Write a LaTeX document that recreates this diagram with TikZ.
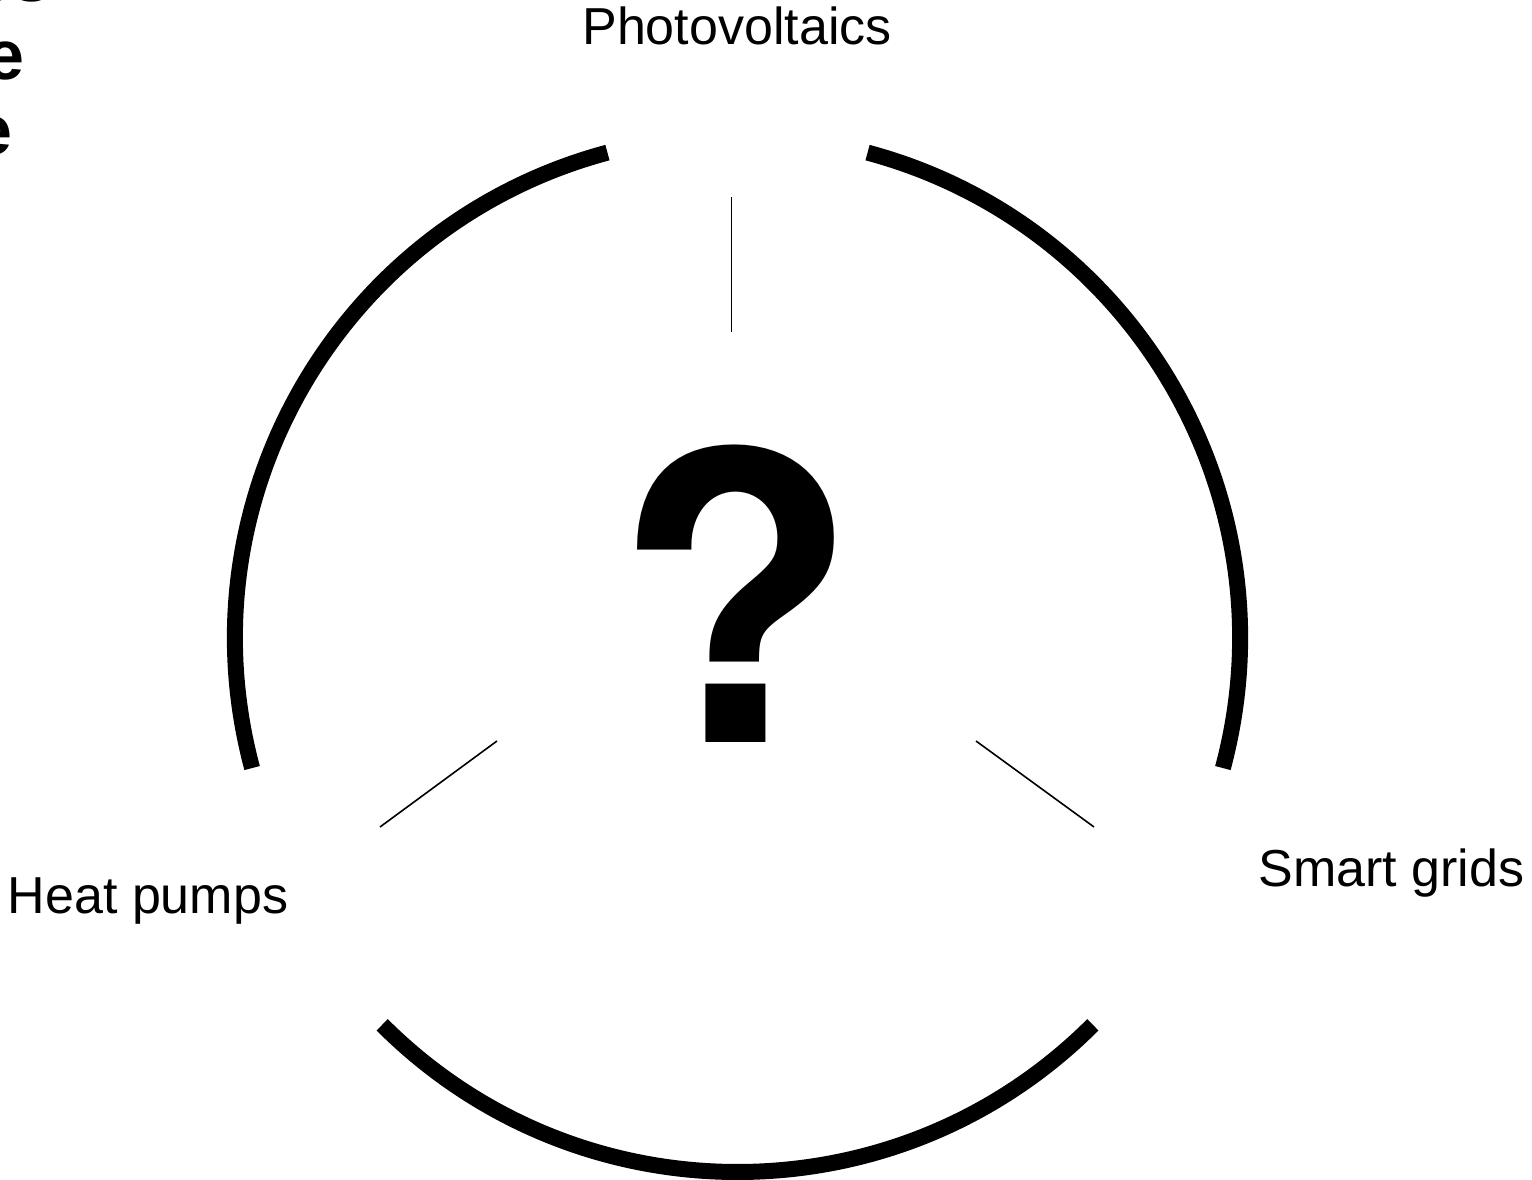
\documentclass[tikz,border=0pt]{standalone}
\usepackage{fontspec}
\setmainfont{Liberation Sans}
\newfontfamily\herosfont{TeX Gyre Heros}
\begin{document}
\begin{tikzpicture}[
        x=1pt, y=1pt,
        rim/.style={line width=16pt},
        spoke/.style={line width=1.6pt},
        tag/.style={inner sep=0pt, anchor=base, font=\fontsize{52}{62}\selectfont},
        edgetext/.style={inner sep=0pt, anchor=base east, font=\fontsize{70}{80}\selectfont\bfseries}
    ]
        \useasboundingbox (0,0) rectangle (1532,1180);
        \coordinate (c) at (737.5,542);
        \coordinate (cb) at (737.5,510.5);

        \draw[rim] (c) ++(105:502.5) arc[start angle=105, end angle=195, radius=502.5];
        \draw[rim] (c) ++(75:502.5) arc[start angle=75, end angle=-15, radius=502.5];
        \draw[rim] (cb) ++(225:502.5) arc[start angle=225, end angle=315, radius=502.5];

        \coordinate (pvin) at (731.5,848);
        \coordinate (pvout) at (731.5,983);
        \coordinate (hpin) at (497,439);
        \coordinate (hpout) at (380,353);
        \coordinate (sgin) at (976,439);
        \coordinate (sgout) at (1094,353);
        \draw[spoke] (pvin) -- (pvout);
        \draw[spoke] (hpin) -- (hpout);
        \draw[spoke] (sgin) -- (sgout);

        \node[inner sep=0pt, anchor=base, font=\fontsize{400}{400}\selectfont\herosfont\bfseries] (qmark) at (736,437) {?};

        \node[tag] (pv) at (737,1135) {Photovoltaics};
        \node[tag] (hp) at (148,266) {Heat pumps};
        \node[tag] (sg) at (1391.5,293) {Smart grids};

        \begin{scope}
            \clip (0,0) rectangle (1532,1180);
            \node[edgetext] (cut1) at (52,1178) {es};
            \node[edgetext] (cut2) at (25,1100) {e};
            \node[edgetext] (cut3) at (13,1025) {e};
        \end{scope}
    \end{tikzpicture}
\end{document}
